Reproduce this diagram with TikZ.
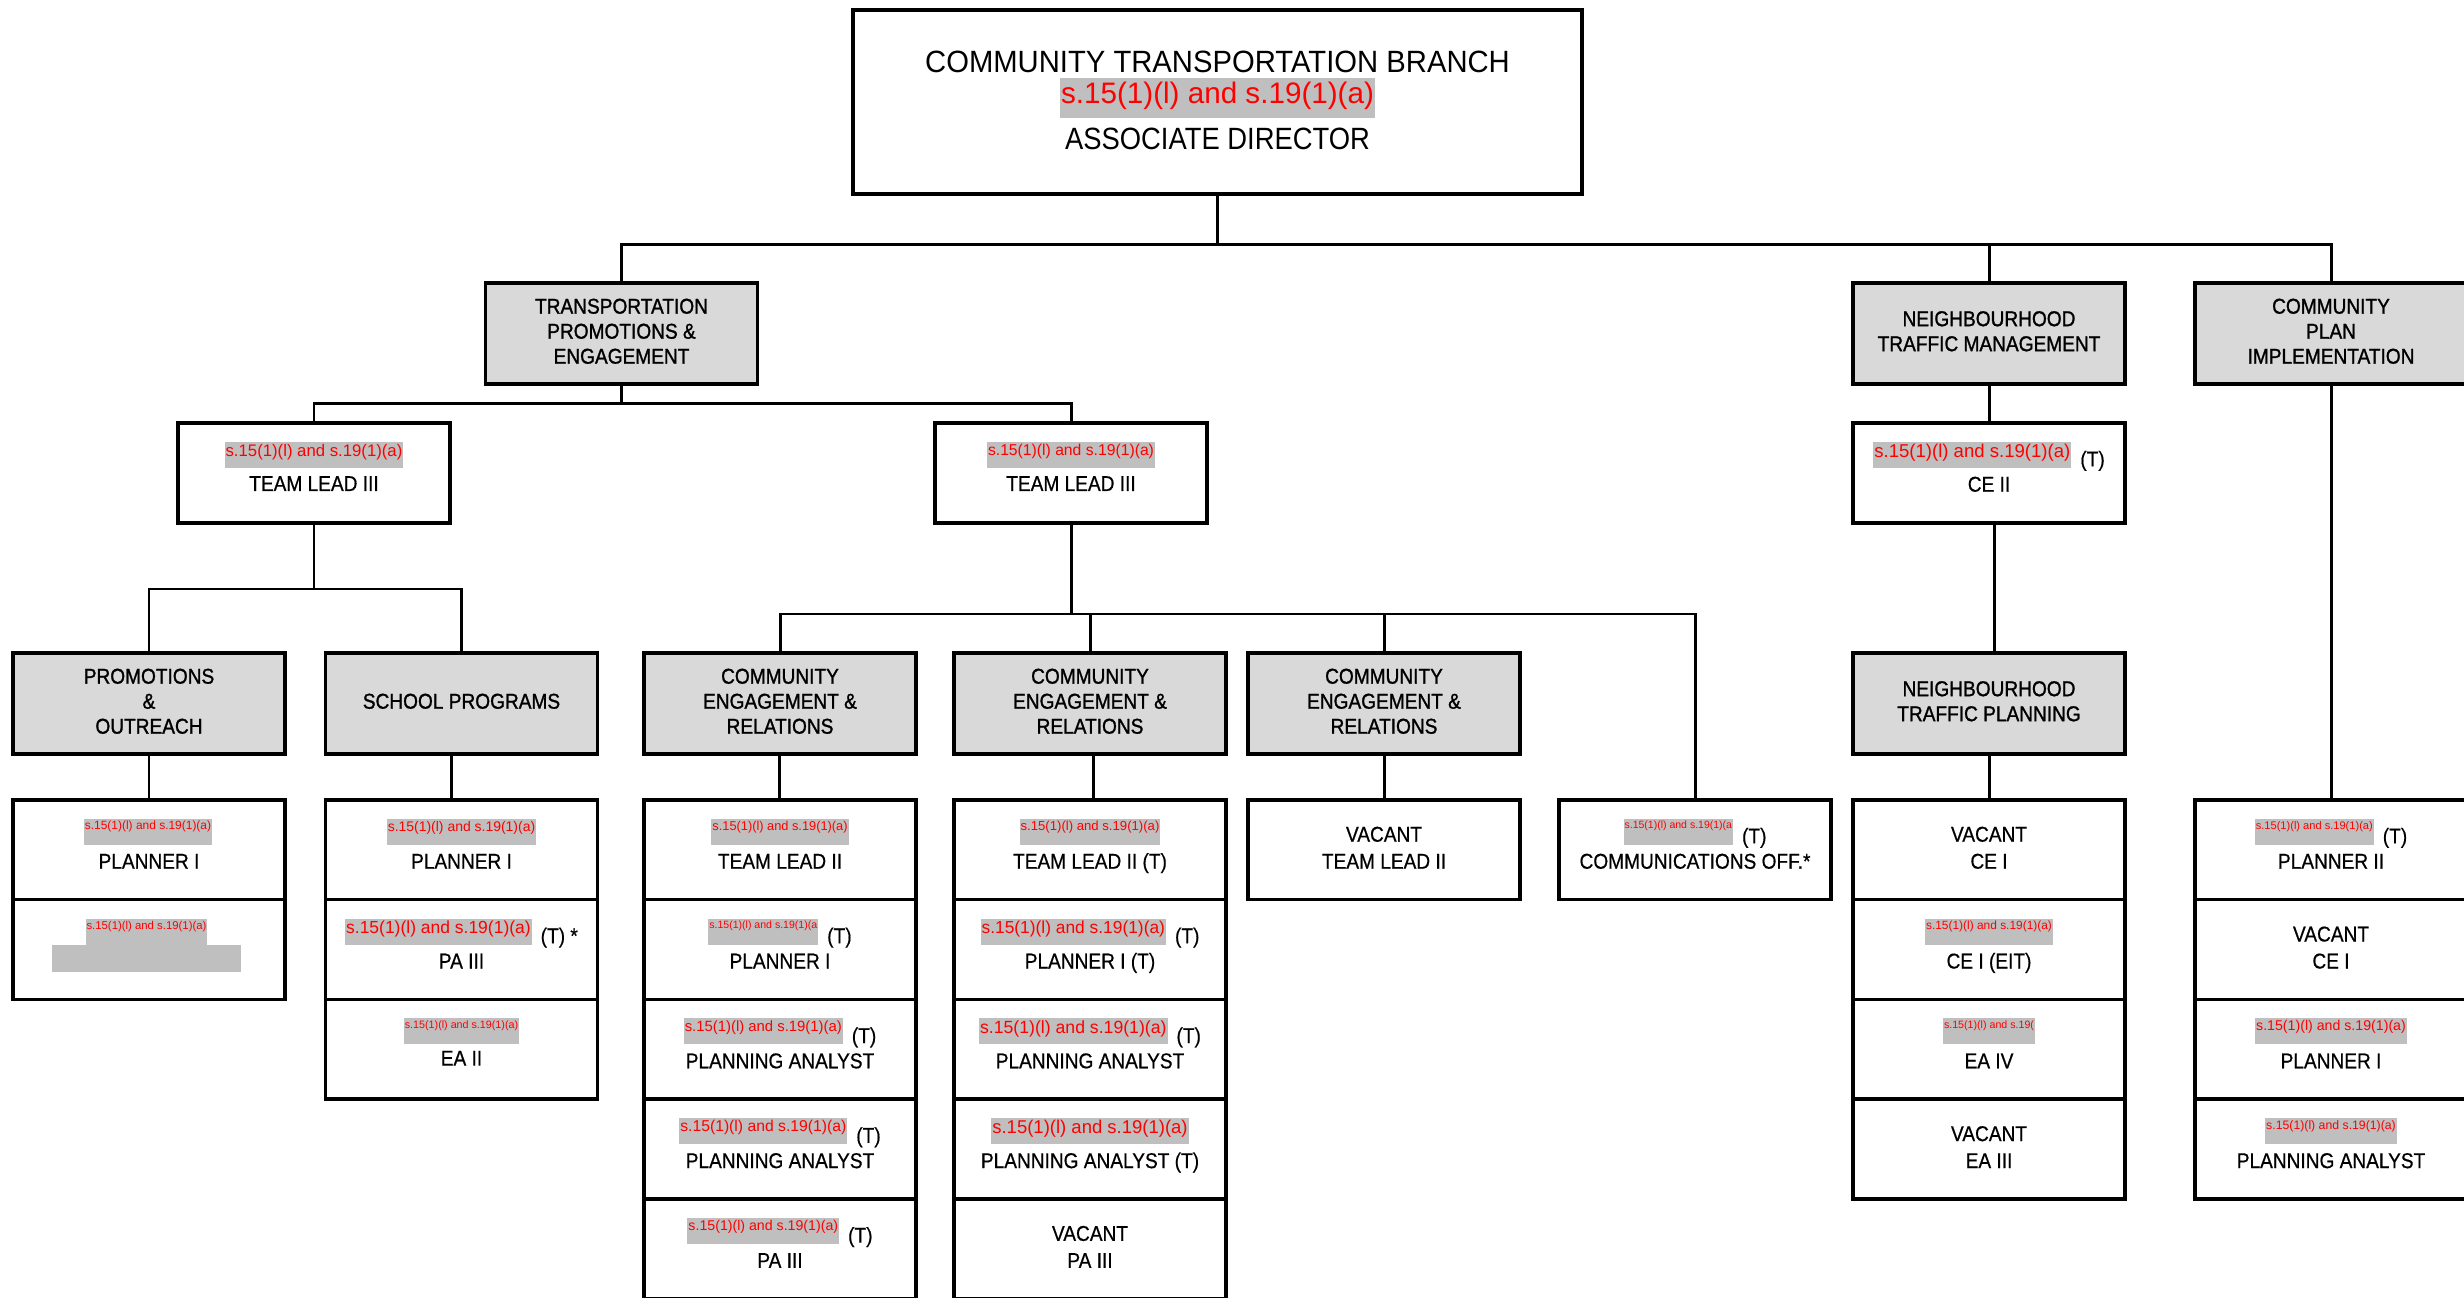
\documentclass[tikz,border=0pt]{standalone}
\usepackage{fontspec}
\setmainfont{Liberation Sans}
\newfontfamily\blk{Liberation Sans}[FakeStretch=0.89,FakeBold=0.6]
\newfontfamily\dpf{Liberation Sans}[FakeStretch=0.89,FakeBold=1.2]
\newfontfamily\ttl{Liberation Sans}[FakeStretch=0.95]
\newfontfamily\ttlb{Liberation Sans}[FakeStretch=0.89]
\newfontfamily\rf{Liberation Sans}
\usetikzlibrary{calc}
\definecolor{deptgrey}{HTML}{D9D9D9}
\definecolor{hlgrey}{HTML}{BFBFBF}
\setlength{\fboxsep}{0pt}
% highlighted red text: size, total height, top pad, text
\newcommand\hlx[4]{{\colorbox{hlgrey}{\rf\fontsize{#1}{#1}\selectfont\color{red}\rule[\dimexpr#3+#1pt*3/4-#2\relax]{0pt}{#2}\hspace{0.01cm}#4\hspace{0.01cm}}}}
\newcommand\hl[2]{\hlx{#1}{0.26cm}{0.02cm}{#2}}
\newcommand\tmk[2]{\hspace{0.09cm}\raisebox{\dimexpr0.02cm+#1pt*3/4-0.247cm\relax}{#2}}
\newcommand\sred{s.15(1)(l) and s.19(1)(a)}
\tikzset{
  conn/.style={line width=0.85pt},
  dept/.style={draw, line width=1pt, fill=deptgrey, minimum width=2.72cm, minimum height=1.01cm,
    inner sep=0pt, anchor=north},
  dtext/.style={inner sep=0pt, anchor=center, align=center, font=\dpf\fontsize{6.1}{7.11}\selectfont},
  cell/.style={draw, line width=1pt, minimum width=2.72cm, minimum height=0.998cm, inner sep=0pt, anchor=north},
  rl/.style={anchor=north, inner sep=0pt, font=\blk\fontsize{6.1}{7.11}\selectfont},
  bl/.style={anchor=base, inner sep=0pt, font=\blk\fontsize{6.1}{7.11}\selectfont},
}
\begin{document}
\begin{tikzpicture}[x=0.01cm,y=-0.01cm]
\useasboundingbox (0,0) rectangle (2464,1298);
\coordinate (bus1) at (0,245);
\coordinate (bus2) at (0,404);
\coordinate (bus3) at (0,589);
\coordinate (bus4) at (0,614);

% top box
\node[draw, line width=1pt, minimum width=7.29cm, minimum height=1.84cm, anchor=north, inner sep=0pt] (top) at (1217.5,8) {};
\node[anchor=base, inner sep=0pt, font=\ttl\fontsize{8.75}{10}\selectfont] (top-t1) at ($(top.north)+(0,65)$) {COMMUNITY TRANSPORTATION BRANCH};
\node[anchor=north, inner sep=0pt] (top-r) at ($(top.north)+(0,69)$) {\hlx{8.43}{0.40cm}{0.04cm}{\sred}};
\node[anchor=base, inner sep=0pt, font=\ttlb\fontsize{8.75}{10}\selectfont] (top-t2) at ($(top.north)+(0,142)$) {ASSOCIATE DIRECTOR};

% level 2 departments
\node[dept] (tpe) at (621.5,281) {};
\node[dtext] (tpe-t) at ($(tpe.center)+(0,-2)$) {TRANSPORTATION\\PROMOTIONS \&\\ENGAGEMENT};
\node[dept] (ntm) at (1989,281) {};
\node[dtext] (ntm-t) at ($(ntm.center)+(0,-2)$) {NEIGHBOURHOOD\\TRAFFIC MANAGEMENT};
\node[dept] (cpi) at (2331,281) {};
\node[dtext] (cpi-t) at ($(cpi.center)+(0,-2)$) {COMMUNITY\\PLAN\\IMPLEMENTATION};

% team leads
\node[cell, minimum height=1.0cm] (tl3a) at (314,421) {};
\node[rl] (tl3a-r) at ($(tl3a.north)+(0,20)$) {\hl{4.76}{\sred}};
\node[bl] (tl3a-t) at ($(tl3a.north)+(0,70)$) {TEAM LEAD III};
\node[cell, minimum height=1.0cm] (tl3b) at (1071,421) {};
\node[rl] (tl3b-r) at ($(tl3b.north)+(0,20)$) {\hl{4.47}{\sred}};
\node[bl] (tl3b-t) at ($(tl3b.north)+(0,70)$) {TEAM LEAD III};
\node[cell, minimum height=1.0cm] (ce2) at (1989,421) {};
\node[rl] (ce2-r) at ($(ce2.north)+(0,20)$) {\hl{5.28}{\sred}\tmk{5.28}{(T)}};
\node[bl] (ce2-t) at ($(ce2.north)+(0,70.7)$) {CE II};

% level 4 groups
\node[dept] (pao) at (149,651) {};
\node[dtext] (pao-t) at ($(pao.center)+(0,-2)$) {PROMOTIONS\\\&\\OUTREACH};
\node[dept] (sp) at (461.5,651) {};
\node[dtext] (sp-t) at ($(sp.center)+(0,-2)$) {SCHOOL PROGRAMS};
\node[dept] (cer1) at (780,651) {};
\node[dtext] (cer1-t) at ($(cer1.center)+(0,-2)$) {COMMUNITY\\ENGAGEMENT \&\\RELATIONS};
\node[dept] (cer2) at (1090,651) {};
\node[dtext] (cer2-t) at ($(cer2.center)+(0,-2)$) {COMMUNITY\\ENGAGEMENT \&\\RELATIONS};
\node[dept] (cer3) at (1384,651) {};
\node[dtext] (cer3-t) at ($(cer3.center)+(0,-2)$) {COMMUNITY\\ENGAGEMENT \&\\RELATIONS};
\node[dept] (ntp) at (1989,651) {};
\node[dtext] (ntp-t) at ($(ntp.center)+(0,-2)$) {NEIGHBOURHOOD\\TRAFFIC PLANNING};

% ---- Promotions & Outreach stack
\node[cell] (pao1) at (149,798) {};
\node[rl] (pao1-r) at ($(pao1.north)+(-1,20)$) {\hl{3.4}{\sred}};
\node[bl] (pao1-t) at ($(pao1.north)+(0,70.7)$) {PLANNER I};
\node[cell] (pao2) at (149,897.8) {};
\node[rl] (pao2-r) at ($(pao2.north)+(-2.5,20)$) {\hl{3.23}{\sred}};
\node[fill=hlgrey, minimum width=1.88cm, minimum height=0.27cm, inner sep=0pt, anchor=north] (pao2-g) at ($(pao2.north)+(-2.5,46)$) {};

% ---- School programs stack
\node[cell] (sp1) at (461.5,798) {};
\node[rl] (sp1-r) at ($(sp1.north)+(0,20)$) {\hl{3.97}{\sred}};
\node[bl] (sp1-t) at ($(sp1.north)+(0,70.7)$) {PLANNER I};
\node[cell] (sp2) at (461.5,897.8) {};
\node[rl] (sp2-r) at ($(sp2.north)+(0,20)$) {\hl{4.97}{\sred}\tmk{4.97}{(T) *}};
\node[bl] (sp2-t) at ($(sp2.north)+(0,70.7)$) {PA III};
\node[cell] (sp3) at (461.5,997.6) {};
\node[rl] (sp3-r) at ($(sp3.north)+(0,20)$) {\hl{3.05}{\sred}};
\node[bl] (sp3-t) at ($(sp3.north)+(0,68)$) {EA II};

% ---- CER 1 stack
\node[cell] (c1a) at (780,798) {};
\node[rl] (c1a-r) at ($(c1a.north)+(0,20)$) {\hl{3.64}{\sred}};
\node[bl] (c1a-t) at ($(c1a.north)+(0,70.7)$) {TEAM LEAD II};
\node[cell] (c1b) at (780,897.8) {};
\node[rl] (c1b-r) at ($(c1b.north)+(0,20)$) {\hl{3.0}{s.15(1)(l) and s.19(1)(a}\tmk{3.0}{(T)}};
\node[bl] (c1b-t) at ($(c1b.north)+(0,70.7)$) {PLANNER I};
\node[cell] (c1c) at (780,997.6) {};
\node[rl] (c1c-r) at ($(c1c.north)+(0,20)$) {\hl{4.23}{\sred}\tmk{4.23}{(T)}};
\node[bl] (c1c-t) at ($(c1c.north)+(0,70.7)$) {PLANNING ANALYST};
\node[cell] (c1d) at (780,1097.4) {};
\node[rl] (c1d-r) at ($(c1d.north)+(0,20)$) {\hl{4.47}{\sred}\tmk{4.47}{(T)}};
\node[bl] (c1d-t) at ($(c1d.north)+(0,70.7)$) {PLANNING ANALYST};
\node[cell] (c1e) at (780,1197.2) {};
\node[rl] (c1e-r) at ($(c1e.north)+(0,20)$) {\hl{4.03}{\sred}\tmk{4.03}{(T)}};
\node[bl] (c1e-t) at ($(c1e.north)+(0,70.7)$) {PA III};

% ---- CER 2 stack
\node[cell] (c2a) at (1090,798) {};
\node[rl] (c2a-r) at ($(c2a.north)+(0,20)$) {\hl{3.74}{\sred}};
\node[bl] (c2a-t) at ($(c2a.north)+(0,70.7)$) {TEAM LEAD II (T)};
\node[cell] (c2b) at (1090,897.8) {};
\node[rl] (c2b-r) at ($(c2b.north)+(0,20)$) {\hl{4.94}{\sred}\tmk{4.94}{(T)}};
\node[bl] (c2b-t) at ($(c2b.north)+(0,70.7)$) {PLANNER I (T)};
\node[cell] (c2c) at (1090,997.6) {};
\node[rl] (c2c-r) at ($(c2c.north)+(0,20)$) {\hl{5.02}{\sred}\tmk{5.02}{(T)}};
\node[bl] (c2c-t) at ($(c2c.north)+(0,70.7)$) {PLANNING ANALYST};
\node[cell] (c2d) at (1090,1097.4) {};
\node[rl] (c2d-r) at ($(c2d.north)+(0,20)$) {\hl{5.26}{\sred}};
\node[bl] (c2d-t) at ($(c2d.north)+(0,70.7)$) {PLANNING ANALYST (T)};
\node[cell] (c2e) at (1090,1197.2) {};
\node[bl] (c2e-v) at ($(c2e.north)+(0,43.7)$) {VACANT};
\node[bl] (c2e-t) at ($(c2e.north)+(0,70.7)$) {PA III};

% ---- CER 3
\node[cell] (c3a) at (1384,798) {};
\node[bl] (c3a-v) at ($(c3a.north)+(0,43.7)$) {VACANT};
\node[bl] (c3a-t) at ($(c3a.north)+(0,70.7)$) {TEAM LEAD II};

% ---- Communications
\node[cell] (cm1) at (1695,798) {};
\node[rl] (cm1-r) at ($(cm1.north)+(0,20)$) {\hl{2.99}{s.15(1)(l) and s.19(1)(a}\tmk{2.99}{(T)}};
\node[bl] (cm1-t) at ($(cm1.north)+(0,70.7)$) {COMMUNICATIONS OFF.*};

% ---- Neighbourhood traffic planning stack
\node[cell] (n1) at (1989,798) {};
\node[bl] (n1-v) at ($(n1.north)+(0,43.7)$) {VACANT};
\node[bl] (n1-t) at ($(n1.north)+(0,70.7)$) {CE I};
\node[cell] (n2) at (1989,897.8) {};
\node[rl] (n2-r) at ($(n2.north)+(0,20)$) {\hl{3.39}{\sred}};
\node[bl] (n2-t) at ($(n2.north)+(0,70.7)$) {CE I (EIT)};
\node[cell] (n3) at (1989,997.6) {};
\node[rl] (n3-r) at ($(n3.north)+(0,20)$) {\hl{3.03}{s.15(1)(l) and s.19(}};
\node[bl] (n3-t) at ($(n3.north)+(0,70.7)$) {EA IV};
\node[cell] (n4) at (1989,1097.4) {};
\node[bl] (n4-v) at ($(n4.north)+(0,43.7)$) {VACANT};
\node[bl] (n4-t) at ($(n4.north)+(0,70.7)$) {EA III};

% ---- Community plan implementation stack
\node[cell] (p1) at (2331,798) {};
\node[rl] (p1-r) at ($(p1.north)+(0,20)$) {\hl{3.15}{\sred}\tmk{3.15}{(T)}};
\node[bl] (p1-t) at ($(p1.north)+(0,70.7)$) {PLANNER II};
\node[cell] (p2) at (2331,897.8) {};
\node[bl] (p2-v) at ($(p2.north)+(0,43.7)$) {VACANT};
\node[bl] (p2-t) at ($(p2.north)+(0,70.7)$) {CE I};
\node[cell] (p3) at (2331,997.6) {};
\node[rl] (p3-r) at ($(p3.north)+(0,20)$) {\hl{4.03}{\sred}};
\node[bl] (p3-t) at ($(p3.north)+(0,70.7)$) {PLANNER I};
\node[cell] (p4) at (2331,1097.4) {};
\node[rl] (p4-r) at ($(p4.north)+(0,20)$) {\hl{3.49}{\sred}};
\node[bl] (p4-t) at ($(p4.north)+(0,70.7)$) {PLANNING ANALYST};

% ---- connectors
\draw[conn] (top.south) -- (top.south |- bus1);
\draw[conn] (tpe.north) -- (tpe.north |- bus1) -| (cpi.north);
\draw[conn] (ntm.north) -- (ntm.north |- bus1);

\draw[conn] (tpe.south) -- (tpe.south |- bus2);
\draw[conn] (tl3a.north) -- (tl3a.north |- bus2) -| (tl3b.north);

\draw[conn] (tl3a.south) -- (tl3a.south |- bus3);
\draw[conn] (pao.north) -- (pao.north |- bus3) -| (sp.north);

\draw[conn] (tl3b.south) -- (tl3b.south |- bus4);
\draw[conn] (cer1.north) -- (cer1.north |- bus4) -| (cm1.north);
\draw[conn] (cer2.north) -- (cer2.north |- bus4);
\draw[conn] (cer3.north) -- (cer3.north |- bus4);

\draw[conn] (pao.south) -- (pao1.north);
\draw[conn] ([xshift=-0.1cm]sp.south) -- ([xshift=-0.1cm]sp1.north);
\draw[conn] ([xshift=-0.01cm]cer1.south) -- ([xshift=-0.01cm]c1a.north);
\draw[conn] ([xshift=0.035cm]cer2.south) -- ([xshift=0.035cm]c2a.north);
\draw[conn] (cer3.south) -- (c3a.north);

\draw[conn] (ntm.south) -- (ce2.north);
\draw[conn] ([xshift=0.05cm]ce2.south) -- ([xshift=0.05cm]ntp.north);
\draw[conn] (ntp.south) -- (n1.north);
\draw[conn] (cpi.south) -- (p1.north);
\end{tikzpicture}
\end{document}
